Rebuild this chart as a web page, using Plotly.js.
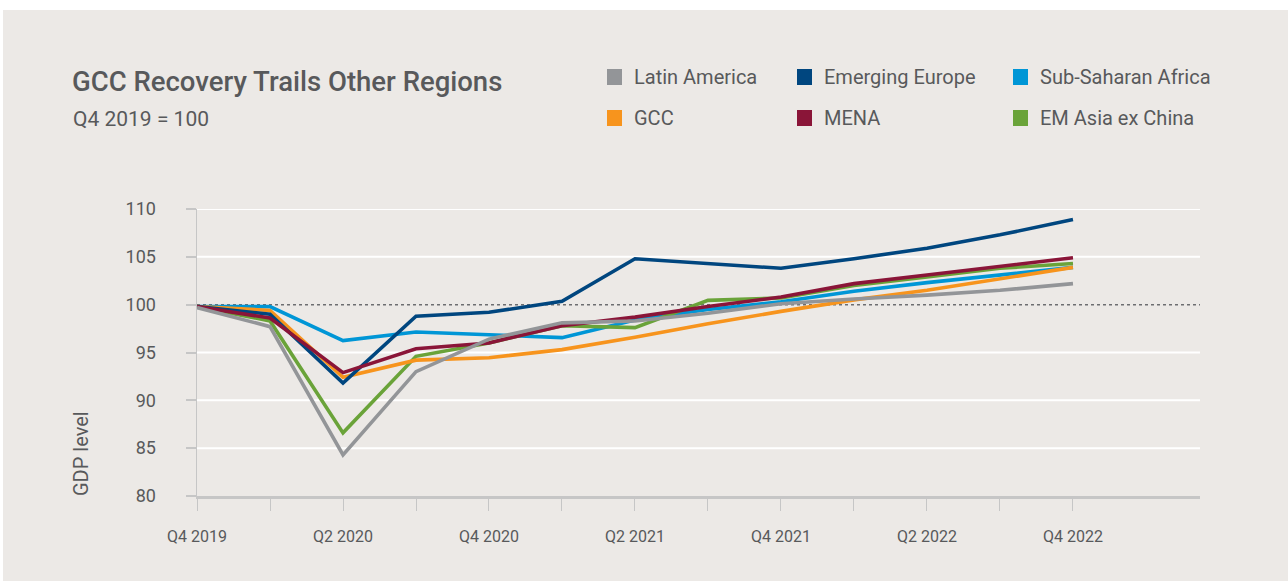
<!DOCTYPE html>
<html>
<head>
<meta charset="utf-8">
<script src="https://cdn.plot.ly/plotly-3.0.1.min.js"></script>
<style>
  html, body { margin: 0; padding: 0; background: #ffffff; }
  #chart { position: absolute; left: 3px; top: 10px; width: 1285px; height: 571px; }
</style>
</head>
<body>
<div id="chart"></div>
<script>
// ---- Data ----
const quarters = ['Q4 2019','Q1 2020','Q2 2020','Q3 2020','Q4 2020','Q1 2021','Q2 2021',
                  'Q3 2021','Q4 2021','Q1 2022','Q2 2022','Q3 2022','Q4 2022'];
const seriesNames = ['Latin America','Emerging Europe','Sub-Saharan Africa','GCC','MENA','EM Asia ex China'];
const latinAmerica   = [99.7, 97.7, 84.3, 93.0, 96.4, 98.1, 98.3, 99.1, 100.1, 100.6, 101.0, 101.5, 102.2];
const emergingEurope = [99.8, 99.0, 91.8, 98.8, 99.2, 100.35, 104.8, 104.3, 103.8, 104.8, 105.9, 107.3, 108.9];
const subSaharan     = [99.8, 99.8, 96.25, 97.15, 96.85, 96.55, 98.4, 99.5, 100.3, 101.4, 102.3, 103.1, 103.9];
const gcc            = [99.8, 99.4, 92.4, 94.2, 94.45, 95.3, 96.6, 98.0, 99.3, 100.5, 101.5, 102.7, 103.9];
const mena           = [99.8, 98.6, 92.9, 95.4, 96.0, 97.8, 98.7, 99.8, 100.8, 102.2, 103.1, 104.0, 104.9];
const emAsia         = [99.8, 98.3, 86.6, 94.6, 96.0, 97.8, 97.6, 100.45, 100.7, 102.0, 102.9, 103.8, 104.3];
const seriesValues = [latinAmerica, emergingEurope, subSaharan, gcc, mena, emAsia];
const seriesColors = ['#939598', '#00467F', '#0096D6', '#F7941D', '#8A1538', '#6AA339'];
const yTickVals = [80, 85, 90, 95, 100, 105, 110];
const gridVals = [85, 90, 95, 105, 110];
const baseline = 100;

// ---- Layout geometry ----
const W = 1285, H = 571, L = 194, R = 88, T = 199, B = 85;
const pw = W - L - R, ph = H - T - B;
const fx = px => (px - 3 - L) / pw;       // page px -> paper x
const fy = py => (H - B - (py - 10)) / ph; // page py -> paper y
const textColor = '#58595B';
const bg = '#ECE9E6';

const idx = quarters.map((q, i) => i);
const tickText = quarters.map((q, i) => (i % 2 === 0 ? q : ''));

// drawing order (bottom to top)
const drawOrder = [2, 5, 3, 1, 4, 0];
const traces = drawOrder.map(k => ({
  type: 'scatter', mode: 'lines',
  x: idx, y: seriesValues[k], name: seriesNames[k],
  line: { color: seriesColors[k], width: 3.6 },
  showlegend: false, hoverinfo: 'x+y+name'
}));

const shapes = [];
gridVals.forEach(v => shapes.push({
  type: 'line', xref: 'paper', yref: 'y', x0: 0, x1: 1, y0: v, y1: v,
  line: { color: '#FFFFFF', width: 2 }, layer: 'below'
}));
shapes.push({
  type: 'line', xref: 'paper', yref: 'y', x0: 0, x1: 1, y0: baseline, y1: baseline,
  line: { color: '#6D6E71', width: 1.5, dash: 'dot' }, layer: 'below'
});

// custom legend: 3 columns x 2 rows
const legCols = [607, 797, 1013];
const legRows = [77, 118];
const annotations = [];
seriesNames.forEach((n, k) => {
  const cx = legCols[k % 3], cy = legRows[Math.floor(k / 3)];
  shapes.push({
    type: 'rect', xref: 'paper', yref: 'paper',
    x0: fx(cx), x1: fx(cx + 15), y0: fy(cy - 8), y1: fy(cy + 8),
    fillcolor: seriesColors[k], line: { width: 0 }
  });
  annotations.push({
    xref: 'paper', yref: 'paper', x: fx(cx + 25), y: fy(cy),
    xanchor: 'left', yanchor: 'middle', showarrow: false, text: n,
    font: { family: 'Roboto, sans-serif', size: 20, color: textColor }
  });
});
annotations.push({
  xref: 'paper', yref: 'paper', x: fx(71), y: fy(119),
  xanchor: 'left', yanchor: 'middle', showarrow: false, text: 'Q4 2019 = 100',
  font: { family: 'Roboto, sans-serif', size: 21, color: textColor }
});
annotations.push({
  xref: 'paper', yref: 'paper', x: fx(81), y: fy(454),
  xanchor: 'center', yanchor: 'middle', showarrow: false, text: 'GDP level', textangle: -90,
  font: { family: 'Roboto, sans-serif', size: 20, color: textColor }
});

const layout = {
  width: W, height: H,
  margin: { l: L, r: R, t: T, b: B },
  paper_bgcolor: bg, plot_bgcolor: bg,
  title: {
    text: 'GCC Recovery Trails Other Regions',
    xref: 'container', yref: 'container',
    x: 69 / W, xanchor: 'left', y: 1 - 71 / H, yanchor: 'middle',
    font: { family: 'Roboto, sans-serif', size: 27.5, color: textColor, weight: 500 }
  },
  xaxis: {
    range: [0, 13.74], tickvals: idx, ticktext: tickText,
    showgrid: false, zeroline: false,
    showline: true, linecolor: '#C6C6C6', linewidth: 2.5,
    ticks: 'outside', ticklen: 12, tickcolor: '#C6C6C6', tickwidth: 1,
    ticklabelstandoff: 12,
    tickfont: { family: 'Roboto, sans-serif', size: 16, color: textColor },
    fixedrange: true
  },
  yaxis: {
    range: [80, 110], tickvals: yTickVals,
    showgrid: false, zeroline: false,
    showline: true, linecolor: '#C6C6C6', linewidth: 1.5,
    ticks: 'outside', ticklen: 10, tickcolor: '#C6C6C6', tickwidth: 2,
    ticklabelstandoff: 26,
    tickfont: { family: 'Roboto, sans-serif', size: 18, color: textColor },
    fixedrange: true
  },
  shapes: shapes,
  annotations: annotations,
  showlegend: false
};

Plotly.newPlot('chart', traces, layout, { displayModeBar: false, staticPlot: true });
</script>
</body>
</html>
